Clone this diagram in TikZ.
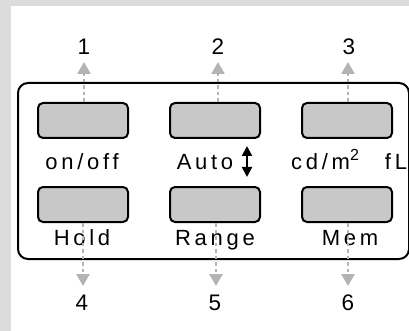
\documentclass[tikz,border=0pt]{standalone}
\usepackage{fontspec}
\setmainfont{Liberation Sans}
\newfontfamily\spaced[LetterSpace=17]{Liberation Sans}
\usetikzlibrary{arrows.meta}
\definecolor{bg}{HTML}{DCDCDC}
\definecolor{btn}{HTML}{C8C8C8}
\definecolor{ptr}{HTML}{B4B4B4}
\begin{document}
\begin{tikzpicture}[x=1pt,y=-1pt,
  btnbox/.style={draw=black,line width=2pt,fill=btn,rounded corners=5pt,minimum width=90pt,minimum height=35pt,inner sep=0pt},
  lbl/.style={font=\spaced\fontsize{22}{22}\selectfont,inner sep=0pt,anchor=base},
  num/.style={font=\fontsize{22.5}{22.5}\selectfont,inner sep=0pt,anchor=base},
  ptrline/.style={draw=ptr,line width=2.6pt,dash pattern=on 3.5pt off 3pt,-{Triangle[length=12pt,width=13pt,fill=ptr]}}]
\fill[bg] (0,0) rectangle (409,331);
\fill[white] (11,6) rectangle (409,331);
\useasboundingbox (0,0) rectangle (409,331);
\draw[line width=2pt,rounded corners=10pt] (18,83) rectangle (409,259);
% buttons
\node[btnbox] (b1) at (83,120.5) {};
\node[btnbox] (b2) at (215,120.5) {};
\node[btnbox] (b3) at (347,120.5) {};
\node[btnbox] (b4) at (83,204.5) {};
\node[btnbox] (b5) at (215,204.5) {};
\node[btnbox] (b6) at (347,204.5) {};
% labels
\node[lbl] (l1) at (82,170) {on/off};
\node[lbl] (l2) at (205,170) {Auto};
\node[lbl] (l3) at (325,170) {cd/m\raisebox{0.42em}{\fontsize{16}{16}\selectfont 2}};
\node[lbl] (l3b) at (396,170) {fL};
\node[lbl] (l4) at (82,245) {Hold};
\node[lbl] (l5) at (215,245) {Range};
\node[lbl] (l6) at (350,245) {Mem};
% updown arrow
\coordinate (ua) at (247,146);
\coordinate (ub) at (247,177);
\draw[line width=2pt,{Triangle[length=10pt,width=10pt]}-{Triangle[length=10pt,width=10pt]}] (ua) -- (ub);
% numbers
\node[num] (n1) at (84,55) {1};
\node[num] (n2) at (218,55) {2};
\node[num] (n3) at (349,55) {3};
\node[num] (n4) at (82,310) {4};
\node[num] (n5) at (215,310) {5};
\node[num] (n6) at (348,310) {6};
% pointer arrows
\coordinate (t1) at (84,62);
\coordinate (t2) at (218,62);
\coordinate (t3) at (348,62);
\coordinate (t4) at (83,286);
\coordinate (t5) at (216,286);
\coordinate (t6) at (348,286);
\draw[ptrline] (b1.north -| t1) -- (t1);
\draw[ptrline] (b2.north -| t2) -- (t2);
\draw[ptrline] (b3.north -| t3) -- (t3);
\draw[ptrline] (b4.south -| t4) -- (t4);
\draw[ptrline] (b5.south -| t5) -- (t5);
\draw[ptrline] (b6.south -| t6) -- (t6);
\end{tikzpicture}
\end{document}
